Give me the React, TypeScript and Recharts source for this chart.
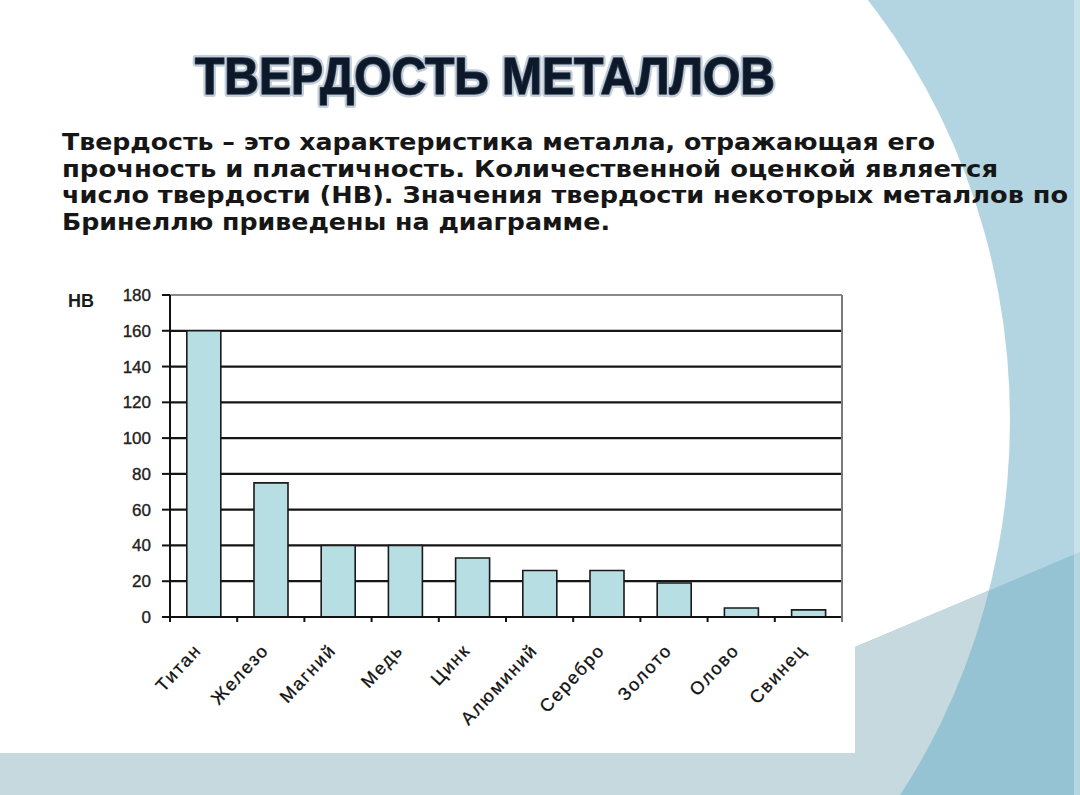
import React from 'react';
import { BarChart, Bar, XAxis, YAxis, CartesianGrid, ReferenceLine } from 'recharts';

const metals = ['Титан', 'Железо', 'Магний', 'Медь', 'Цинк', 'Алюминий', 'Серебро', 'Золото', 'Олово', 'Свинец'];
const hardnessHB = [160, 75, 40, 40, 33, 26, 26, 19, 5, 4];
const yTicks = [0, 20, 40, 60, 80, 100, 120, 140, 160, 180];
const unitLabel = 'НВ';
const titleText = 'ТВЕРДОСТЬ МЕТАЛЛОВ';
const paragraphLines = [
  'Твердость – это характеристика металла, отражающая его',
  'прочность и пластичность. Количественной оценкой является',
  'число твердости (НВ). Значения твердости некоторых металлов по',
  'Бринеллю приведены на диаграмме.',
];
const paragraphWidths = [873, 936, 1006, 548];

const data = metals.map((name, i) => ({ name, hb: hardnessHB[i] }));

const FONT = "'Liberation Sans', Arial, sans-serif";

const XTick = (props: any) => {
  const { x, y, payload, index, width } = props;
  let off = payload && typeof payload.offset === 'number' ? payload.offset : 0;
  if (!off && typeof width === 'number' && width > 0) off = width / metals.length / 2;
  const isLast = index === metals.length - 1;
  const ax = x - 1;
  const ay = y + 34;
  return (
    <g>
      {off > 0 && <line x1={x - off} x2={x - off} y1={y} y2={y + 5} stroke="#111" strokeWidth={2} />}
      {off > 0 && isLast && <line x1={x + off} x2={x + off} y1={y} y2={y + 5} stroke="#777" strokeWidth={2} />}
      <text
        x={ax}
        y={ay}
        transform={`rotate(-47, ${ax}, ${ay})`}
        textAnchor="end"
        fontSize={18}
        letterSpacing={1.8}
        fontFamily={FONT}
        fill="#111"
        stroke="#111"
        strokeWidth={0.3}
      >
        {payload.value}
      </text>
    </g>
  );
};

export default function App() {
  const paraBaselines = [150, 176.5, 203, 229.5];
  return (
    <div style={{ position: 'absolute', left: 0, top: 0, width: 1080, height: 795, overflow: 'hidden' }}>
      <svg width={1080} height={795} style={{ position: 'absolute', left: 0, top: 0 }}>
        <defs>
          <clipPath id="ellClip">
            <ellipse cx={420} cy={420} rx={590} ry={645} />
          </clipPath>
        </defs>
        <rect x={0} y={0} width={1080} height={795} fill="#b2d5e1" />
        <ellipse cx={420} cy={420} rx={590} ry={645} fill="#ffffff" />
        <polygon points="0,753 855,753 855,647 1080,552 1080,795 0,795" fill="#95c3d3" />
        <polygon points="0,753 855,753 855,647 1080,552 1080,795 0,795" fill="#c6d9df" clipPath="url(#ellClip)" />
        <rect x={1074} y={0} width={6} height={795} fill="#ffffff" opacity={0.3} />
      </svg>

      <div style={{ position: 'absolute', left: 0, top: 0 }}>
        <BarChart
          width={860}
          height={760}
          data={data}
          margin={{ top: 295, right: 17, bottom: 23, left: 0 }}
          barCategoryGap="25%"
        >
          <CartesianGrid yAxisId="left" horizontal vertical={false} stroke="#151515" strokeWidth={2.2} />
          <ReferenceLine y={180} yAxisId="left" stroke="#8a8a8a" strokeWidth={2} />
          <XAxis
            dataKey="name"
            interval={0}
            height={120}
            tickSize={0}
            tickMargin={0}
            tickLine={false}
            axisLine={{ stroke: '#111', strokeWidth: 2 }}
            tick={<XTick />}
          />
          <YAxis
            yAxisId="left"
            domain={[0, 180]}
            ticks={yTicks}
            width={170}
            tickSize={8}
            tickMargin={11}
            tickLine={{ stroke: '#111', strokeWidth: 2 }}
            axisLine={{ stroke: '#111', strokeWidth: 2 }}
            tick={{ fontSize: 17, fill: '#222', fontFamily: FONT, stroke: '#222', strokeWidth: 0.35 }}
            interval={0}
          />
          <YAxis
            yAxisId="right"
            orientation="right"
            domain={[0, 180]}
            width={1}
            tick={false}
            tickLine={false}
            axisLine={{ stroke: '#7a7a7a', strokeWidth: 2 }}
          />
          <Bar
            dataKey="hb"
            yAxisId="left"
            fill="#b7dee2"
            stroke="#1a1a1a"
            strokeWidth={1.6}
            isAnimationActive={false}
          />
        </BarChart>
      </div>

      <svg width={1080} height={795} style={{ position: 'absolute', left: 0, top: 0, pointerEvents: 'none' }}>
        <text
          x={195}
          y={94}
          textLength={580}
          lengthAdjust="spacingAndGlyphs"
          fontSize={51}
          fontWeight="bold"
          fontFamily={FONT}
          fill="none"
          stroke="#9fb0c2"
          strokeWidth={6}
          strokeLinejoin="round"
          opacity={0.6}
        >
          {titleText}
        </text>
        <text
          x={195}
          y={94}
          textLength={580}
          lengthAdjust="spacingAndGlyphs"
          fontSize={51}
          fontWeight="bold"
          fontFamily={FONT}
          fill="#0d1929"
          stroke="#34475e"
          strokeWidth={1.6}
          strokeLinejoin="round"
          style={{ paintOrder: 'stroke' } as any}
        >
          {titleText}
        </text>
        {paragraphLines.map((line, i) => (
          <text
            key={i}
            x={62}
            y={paraBaselines[i]}
            textLength={paragraphWidths[i]}
            lengthAdjust="spacingAndGlyphs"
            fontSize={23}
            fontWeight="bold"
            fontFamily="'DejaVu Sans', Verdana, sans-serif"
            fill="#161616"
          >
            {line}
          </text>
        ))}
        <text x={68} y={307} fontSize={18} fontWeight="bold" fontFamily={FONT} fill="#1a1a1a">
          {unitLabel}
        </text>
      </svg>
    </div>
  );
}
